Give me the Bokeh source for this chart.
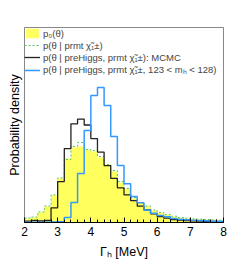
from bokeh.plotting import figure
from bokeh.models import Range1d, Legend, LegendItem, Title, SingleIntervalTicker
from bokeh.embed import file_html
from bokeh.resources import INLINE

# bin edges of Gamma_h [MeV]
edges = [2.0, 2.2, 2.4, 2.6, 2.8, 3.0, 3.2, 3.4, 3.6, 3.8, 4.0, 4.2, 4.4, 4.6, 4.8, 5.0,
         5.2, 5.4, 5.6, 5.8, 6.0, 6.2, 6.4, 6.6, 6.8, 7.0, 7.2, 7.4, 7.6, 7.8, 8.0]

# p0(theta)
p0 = [0.024, 0.030, 0.061, 0.097, 0.164, 0.267, 0.388, 0.455, 0.461, 0.439, 0.430, 0.394,
      0.352, 0.309, 0.242, 0.204, 0.145, 0.119, 0.099, 0.073, 0.059, 0.047, 0.036, 0.028,
      0.024, 0.020, 0.018, 0.016, 0.014, 0.012]
# p(theta | prmt chi)
prmt = [0.027, 0.033, 0.064, 0.100, 0.167, 0.270, 0.382, 0.461, 0.485, 0.442, 0.436, 0.400,
        0.352, 0.315, 0.248, 0.206, 0.152, 0.121, 0.100, 0.076, 0.061, 0.048, 0.038, 0.030,
        0.026, 0.022, 0.020, 0.018, 0.016, 0.014]
# p(theta | preHiggs, prmt chi): MCMC
mcmc = [0.008, 0.012, 0.009, 0.012, 0.089, 0.248, 0.448, 0.598, 0.627, 0.591, 0.509, 0.427,
        0.345, 0.267, 0.210, 0.168, 0.133, 0.099, 0.077, 0.053, 0.036, 0.026, 0.018, 0.014,
        0.012, 0.010, 0.008, 0.006, 0.006, 0.004]
# p(theta | preHiggs, prmt chi, 123 < mh < 128)
mh = [0.001, 0.001, 0.002, 0.002, 0.003, 0.005, 0.030, 0.121, 0.297, 0.558, 0.770, 0.818,
      0.709, 0.521, 0.345, 0.235, 0.158, 0.119, 0.076, 0.056, 0.042, 0.035, 0.024, 0.020,
      0.016, 0.014, 0.012, 0.010, 0.008, 0.008]

legend_labels = ["p₀(θ)",
                 "p(θ | prmt χ̃₁±)",
                 "p(θ | preHiggs, prmt χ̃₁±): MCMC",
                 "p(θ | preHiggs, prmt χ̃₁±, 123 < mₕ < 128)"]
x_label = "Γₕ [MeV]"
y_label = "Probability density"

def ext(v):
    return list(v) + [v[-1]]

p = figure(width=244, height=262, output_backend="svg", toolbar_location=None,
           x_range=Range1d(2, 8), y_range=Range1d(0, 1.182), y_axis_location=None,
           min_border_left=24, min_border_right=21, min_border_top=27, min_border_bottom=40)
p.xgrid.visible = False
p.ygrid.visible = False
p.outline_line_color = "#888888"
p.outline_line_width = 1
p.background_fill_color = "white"

r0 = p.varea_step(x=edges, y1=[0] * len(edges), y2=ext(p0), step_mode="after",
                  fill_color="#ffff5e")
r1 = p.step(x=edges, y=ext(prmt), mode="after", line_color="#55c855", line_width=1,
            line_dash="2 2")
r2 = p.step(x=edges, y=ext(mcmc), mode="after", line_color="#222222", line_width=1.3)
r3 = p.step(x=edges, y=ext(mh), mode="after", line_color="#3399ff", line_width=1.5)

ax = p.xaxis[0]
ax.ticker = SingleIntervalTicker(interval=1, num_minor_ticks=5)
ax.major_tick_in = 5
ax.major_tick_out = 0
ax.minor_tick_in = 3
ax.minor_tick_out = 0
ax.axis_line_color = "black"
ax.major_tick_line_color = "black"
ax.minor_tick_line_color = "black"
ax.major_label_text_font = "Liberation Sans"
ax.major_label_text_font_size = "12px"
ax.major_label_text_color = "black"
ax.major_label_standoff = 4
ax.axis_label = x_label
ax.axis_label_text_font = "Liberation Sans"
ax.axis_label_text_font_size = "12.5px"
ax.axis_label_text_font_style = "normal"
ax.axis_label_text_color = "black"
ax.axis_label_standoff = 6

legend = Legend(items=[LegendItem(label=legend_labels[0], renderers=[r0]),
                       LegendItem(label=legend_labels[1], renderers=[r1]),
                       LegendItem(label=legend_labels[2], renderers=[r2]),
                       LegendItem(label=legend_labels[3], renderers=[r3])],
                location="top_left", margin=0, padding=5, spacing=0,
                glyph_width=16, glyph_height=12, label_height=12, label_standoff=3,
                label_text_font="Liberation Sans", label_text_font_size="9.5px",
                border_line_color=None, background_fill_alpha=0)
p.add_layout(legend)

p.add_layout(Title(text=y_label, align="center", text_font="Liberation Sans",
                   text_font_size="12.5px", text_font_style="normal", text_color="black",
                   standoff=6, offset=0), "left")

open("out.html", "w").write(file_html(p, INLINE))
